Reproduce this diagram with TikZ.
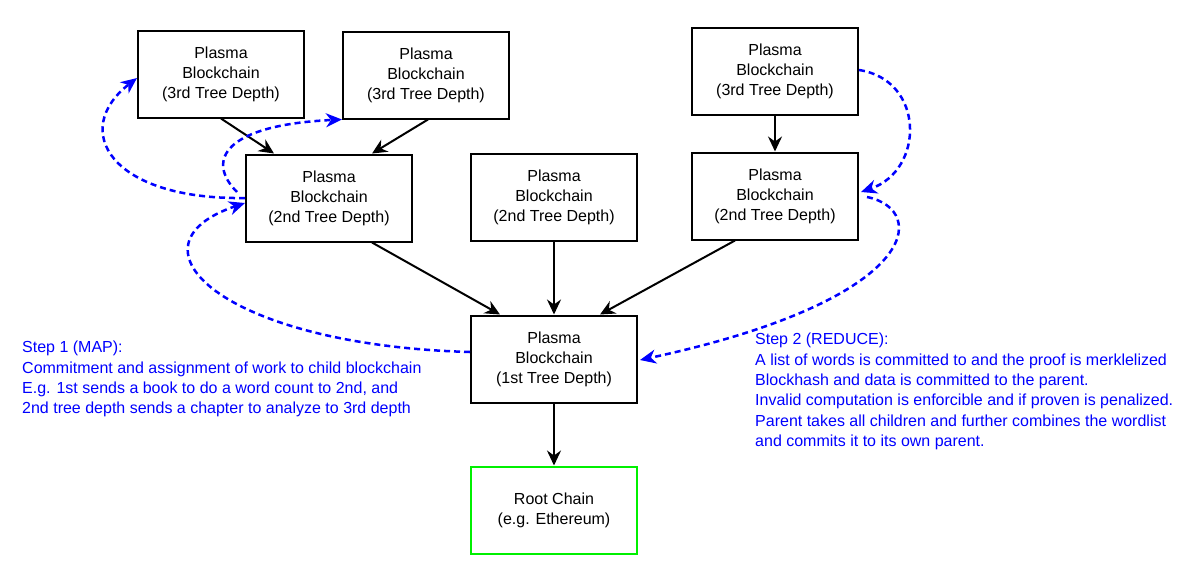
\documentclass[tikz,border=0pt]{standalone}
\usepackage{fontspec}
\setmainfont{Liberation Sans}
\usetikzlibrary{arrows.meta}
\definecolor{myblue}{RGB}{0,0,255}
\definecolor{mygreen}{RGB}{0,240,0}
\begin{document}
\begin{tikzpicture}[x=1pt,y=-1pt,
  box/.style={draw=black,line width=2pt,minimum width=166pt,minimum height=87pt,align=center,
    font=\fontsize{16}{20}\selectfont,inner sep=0pt},
  tree/.style={line width=2pt,-{Stealth[length=15pt,width=14pt,inset=5pt]}},
  dashblue/.style={myblue,line width=2.5pt,dash pattern=on 6pt off 4pt,-{Stealth[length=16pt,width=14pt,inset=5pt]}},
  note/.style={myblue,align=left,anchor=north west,inner sep=0pt,font=\fontsize{16}{20.3}\selectfont}]
\useasboundingbox (0,0) rectangle (1190,584);
\fill[white] (0,0) rectangle (1190,584);
\node[box] (A) at (221,74) {Plasma\\Blockchain\\(3rd Tree Depth)};
\node[box] (B) at (426,75) {Plasma\\Blockchain\\(3rd Tree Depth)};
\node[box] (C) at (775,71) {Plasma\\Blockchain\\(3rd Tree Depth)};
\node[box] (D) at (329,198) {Plasma\\Blockchain\\(2nd Tree Depth)};
\node[box] (E) at (554,197) {Plasma\\Blockchain\\(2nd Tree Depth)};
\node[box] (F) at (775,196) {Plasma\\Blockchain\\(2nd Tree Depth)};
\node[box] (G) at (554,359) {Plasma\\Blockchain\\(1st Tree Depth)};
\node[box,draw=mygreen] (H) at (554,510) {Root Chain\\(e.g. Ethereum)};
% tree arrows
\draw[tree] (A.south) -- ([xshift=-55pt]D.north);
\draw[tree] ([xshift=2pt]B.south) -- ([xshift=43pt]D.north);
\draw[tree] (C.south) -- (F.north);
\draw[tree] ([xshift=43pt]D.south) -- ([xshift=-54pt]G.north);
\draw[tree] (E.south) -- (G.north);
\draw[tree] ([xshift=-40pt]F.south) -- ([xshift=46pt]G.north);
\draw[tree] (G.south) -- (H.north);
% dashed curves
\draw[dashblue] (D.west) .. controls (110,200) and (70,130) .. ([yshift=-4pt]A.west);
\draw[dashblue] ([xshift=-8pt,yshift=6pt]D.west) .. controls (205,160) and (225,125) .. (B.south west);
\draw[dashblue] ([yshift=7pt]G.west) .. controls (220,345) and (120,245) .. ([yshift=-5pt]D.west);
\draw[dashblue] ([yshift=1pt]C.east) .. controls (925,80) and (925,170) .. ([xshift=2pt,yshift=4pt]F.east);
\draw[dashblue] ([xshift=8pt,yshift=-1pt]F.east) .. controls (930,210) and (920,300) .. ([xshift=2pt,yshift=-1pt]G.east);
% notes
\node[note] (S1) at (22,341) {Step 1 (MAP):\\Commitment and assignment of work to child blockchain\\E.g. 1st sends a book to do a word count to 2nd, and\\2nd tree depth sends a chapter to analyze to 3rd depth};
\node[note] (S2) at (755,333) {Step 2 (REDUCE):\\A list of words is committed to and the proof is merklelized\\Blockhash and data is committed to the parent.\\Invalid computation is enforcible and if proven is penalized.\\Parent takes all children and further combines the wordlist\\and commits it to its own parent.};
\end{tikzpicture}
\end{document}
